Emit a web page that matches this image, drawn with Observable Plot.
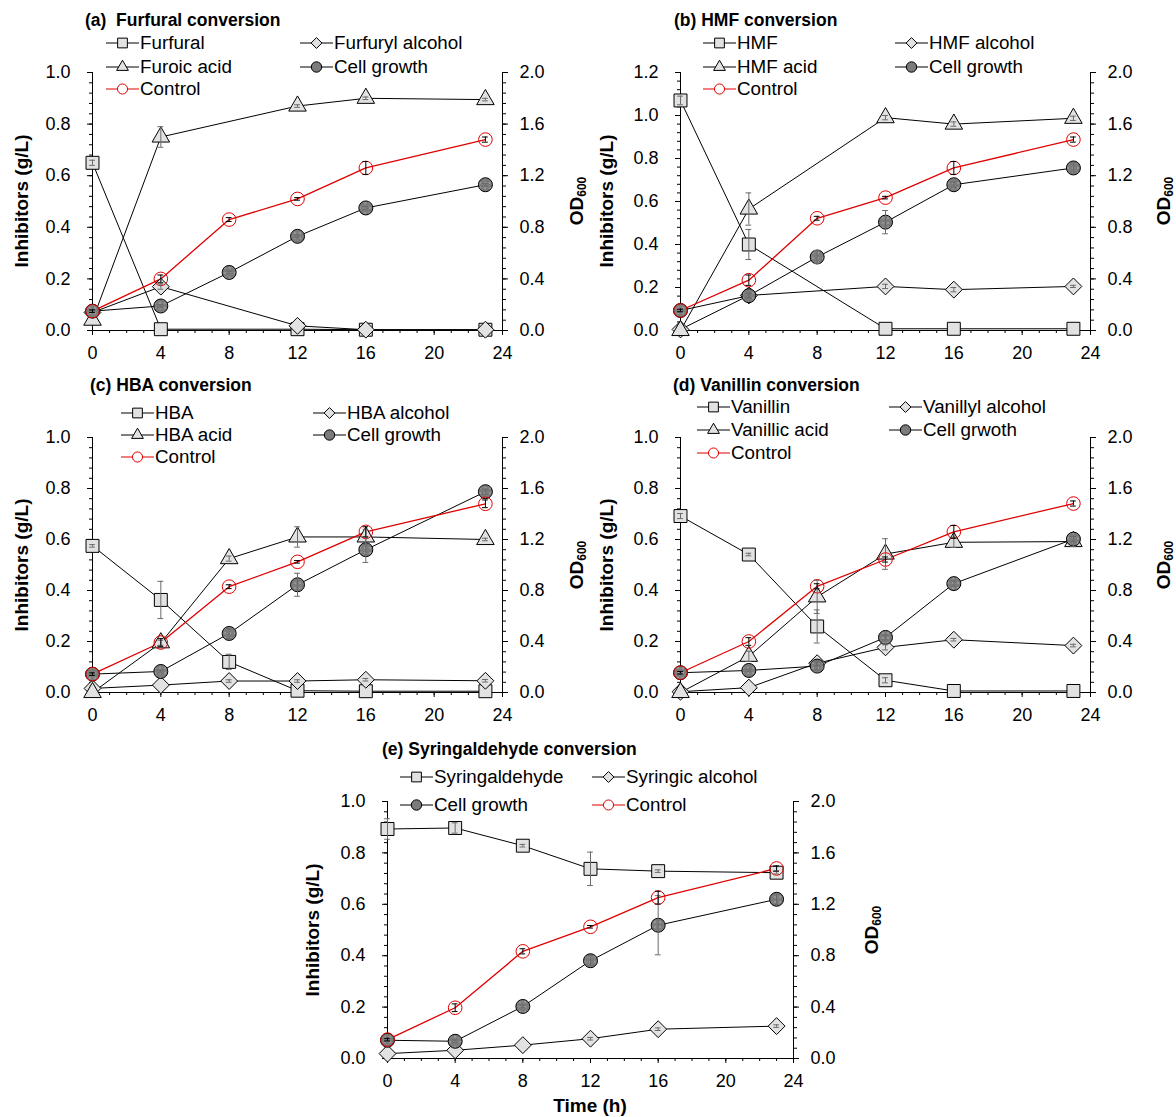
<!DOCTYPE html>
<html><head><meta charset="utf-8">
<script src="https://cdn.jsdelivr.net/npm/d3@7"></script>
<script src="https://cdn.jsdelivr.net/npm/@observablehq/plot@0.6"></script>
<style>
body{margin:0;background:#fff;}
#page{position:relative;width:1176px;height:1117px;font-family:"Liberation Sans",Arial,sans-serif;overflow:hidden;background:#fff;color:#000;}
.panel{position:absolute;overflow:visible;}
.title{position:absolute;font-weight:bold;font-size:17.5px;line-height:20px;white-space:pre;}
.leg{position:absolute;font-size:18.8px;line-height:20px;white-space:nowrap;display:flex;align-items:center;}
.leg svg{display:block;}
.ylab{position:absolute;font-weight:bold;font-size:19px;line-height:20px;white-space:nowrap;transform:translate(-50%,-50%) rotate(-90deg);}
.ylab sub{font-size:12px;vertical-align:-3px;}
.xlab{position:absolute;font-weight:bold;font-size:19px;line-height:20px;white-space:nowrap;transform:translate(-50%,-50%);}
</style></head><body><div id="page"></div>
<script>
// ---------- data ----------
const hours  = [0, 4, 8, 12, 16, 23];
const xTicks = [0, 4, 8, 12, 16, 20, 24];
const odTicks = [0, 0.4, 0.8, 1.2, 1.6, 2.0];

// (a) Furfural conversion  (g/L; OD600 for growth)
const furfural           = [0.65, 0.005, null, 0.005, 0.003, 0.003];
const furfuralErr        = [0.01, 0, null, 0, 0, 0];
const furfurylAlcohol    = [0.07, 0.17, null, 0.018, 0.003, 0.003];
const furfurylAlcoholErr = [0, 0.01, null, 0, 0, 0];
const furoicAcid         = [0.04, 0.75, null, 0.87, 0.90, 0.895];
const furoicAcidErr      = [0, 0.04, null, 0.005, 0.005, 0.005];
const cellGrowthA        = [0.15, 0.19, 0.45, 0.73, 0.95, 1.13];
const cellGrowthAErr     = [0.01, 0.01, 0.01, 0.01, 0.01, 0.01];
const controlA           = [0.15, 0.40, 0.86, 1.02, 1.26, 1.48];
const controlAErr        = [0.01, 0.03, 0.015, 0.01, 0.05, 0.02];

// (b) HMF conversion
const hmf           = [1.07, 0.40, null, 0.008, 0.008, 0.008];
const hmfErr        = [0.02, 0.07, null, 0, 0, 0];
const hmfAlcohol    = [0.005, 0.163, null, 0.205, 0.19, 0.205];
const hmfAlcoholErr = [0, 0.01, null, 0.01, 0.01, 0.005];
const hmfAcid       = [0.0, 0.565, null, 0.99, 0.96, 0.987];
const hmfAcidErr    = [0, 0.075, null, 0.01, 0.01, 0.01];
const cellGrowthB   = [0.155, 0.27, 0.57, 0.84, 1.13, 1.26];
const cellGrowthBErr= [0.01, 0.02, 0.05, 0.09, 0.02, 0.04];
const controlB      = [0.155, 0.39, 0.87, 1.03, 1.26, 1.48];
const controlBErr   = [0.01, 0.04, 0.015, 0.01, 0.05, 0.02];

// (c) HBA conversion
const hba           = [0.575, 0.363, 0.12, 0.007, 0.005, 0.005];
const hbaErr        = [0.005, 0.073, 0.03, 0, 0, 0];
const hbaAlcohol    = [0.016, 0.029, 0.045, 0.045, 0.05, 0.046];
const hbaAlcoholErr = [0, 0, 0.005, 0.005, 0.005, 0.005];
const hbaAcid       = [0.0, 0.195, 0.525, 0.61, 0.61, 0.60];
const hbaAcidErr    = [0, 0.01, 0.01, 0.04, 0.03, 0.005];
const cellGrowthC   = [0.144, 0.165, 0.463, 0.845, 1.12, 1.575];
const cellGrowthCErr= [0.01, 0.01, 0.04, 0.09, 0.1, 0.02];
const controlC      = [0.144, 0.392, 0.83, 1.025, 1.26, 1.48];
const controlCErr   = [0.01, 0.03, 0.015, 0.01, 0.04, 0.03];

// (d) Vanillin conversion
const vanillin           = [0.692, 0.541, 0.259, 0.048, 0.006, 0.006];
const vanillinErr        = [0.01, 0.005, 0.065, 0.01, 0, 0];
const vanillylAlcohol    = [0.003, 0.019, 0.115, 0.177, 0.207, 0.184];
const vanillylAlcoholErr = [0, 0, 0.01, 0.01, 0.005, 0.005];
const vanillicAcid       = [0.0, 0.142, 0.375, 0.543, 0.589, 0.592];
const vanillicAcidErr    = [0, 0.02, 0.065, 0.06, 0.02, 0.02];
const cellGrowthD        = [0.155, 0.173, 0.207, 0.432, 0.854, 1.203];
const cellGrowthDErr     = [0.01, 0.01, 0.03, 0.02, 0.02, 0.02];
const controlD           = [0.155, 0.40, 0.833, 1.043, 1.26, 1.482];
const controlDErr        = [0.01, 0.03, 0.02, 0.02, 0.05, 0.02];

// (e) Syringaldehyde conversion
const syringaldehyde      = [0.893, 0.897, 0.828, 0.738, 0.729, 0.723];
const syringaldehydeErr   = [0.04, 0.02, 0.005, 0.065, 0.005, 0.005];
const syringicAlcohol     = [0.019, 0.032, 0.052, 0.077, 0.114, 0.126];
const syringicAlcoholErr  = [0, 0, 0, 0.005, 0.005, 0.005];
const cellGrowthE         = [0.142, 0.134, 0.405, 0.761, 1.037, 1.239];
const cellGrowthEErr      = [0.01, 0.01, 0.01, 0.04, 0.23, 0.04];
const controlE            = [0.147, 0.395, 0.834, 1.025, 1.252, 1.479];
const controlEErr         = [0.01, 0.03, 0.02, 0.01, 0.05, 0.02];

// ---------- styles ----------
const KIND = {
  square:   {symbol: "square",   r: 7.3, legSize: 95,  fill: "#e2e2e2", stroke: "#000", line: "#000", lw: 1},
  diamond:  {symbol: "diamond2", r: 7.6, legSize: 75,  fill: "#e2e2e2", stroke: "#000", line: "#000", lw: 1},
  triangle: {symbol: "triangle", r: 6.5, legSize: 60,  fill: "#e2e2e2", stroke: "#000", line: "#000", lw: 1},
  cell:     {symbol: "circle",   r: 7.0, legSize: 85,  fill: "dots",    stroke: "#000", line: "#000", lw: 1},
  control:  {symbol: "circle",   r: 6.8, legSize: 80,  fill: "none",    stroke: "#e00000", line: "#e00000", lw: 1.3}
};
const D3SYM = {square: d3.symbolSquare, diamond2: d3.symbolDiamond2, triangle: d3.symbolTriangle, circle: d3.symbolCircle};

const panels = [
  {id: "a", title: "(a)  Furfural conversion", titleX: 85, titleY: 20, yMax: 1.0,
   x0: 92, x1: 502, yt: 72, yb: 330, ylabX: 22, odX: 579,
   series: [
     {name: "Furfural", kind: "square", vals: furfural, err: furfuralErr, od: false},
     {name: "Furfuryl alcohol", kind: "diamond", vals: furfurylAlcohol, err: furfurylAlcoholErr, od: false},
     {name: "Furoic acid", kind: "triangle", vals: furoicAcid, err: furoicAcidErr, od: false},
     {name: "Cell growth", kind: "cell", vals: cellGrowthA, err: cellGrowthAErr, od: true},
     {name: "Control", kind: "control", vals: controlA, err: controlAErr, od: true}],
   legCols: [106, 300], legRows: [43, 67, 89],
   legend: [[0,0,0],[1,1,0],[2,0,1],[3,1,1],[4,0,2]]},
  {id: "b", title: "(b) HMF conversion", titleX: 674, titleY: 20, yMax: 1.2,
   x0: 680, x1: 1090, yt: 72, yb: 330, ylabX: 607, odX: 1166,
   series: [
     {name: "HMF", kind: "square", vals: hmf, err: hmfErr, od: false},
     {name: "HMF alcohol", kind: "diamond", vals: hmfAlcohol, err: hmfAlcoholErr, od: false},
     {name: "HMF acid", kind: "triangle", vals: hmfAcid, err: hmfAcidErr, od: false},
     {name: "Cell growth", kind: "cell", vals: cellGrowthB, err: cellGrowthBErr, od: true},
     {name: "Control", kind: "control", vals: controlB, err: controlBErr, od: true}],
   legCols: [703, 895], legRows: [43, 67, 89],
   legend: [[0,0,0],[1,1,0],[2,0,1],[3,1,1],[4,0,2]]},
  {id: "c", title: "(c) HBA conversion", titleX: 90, titleY: 385, yMax: 1.0,
   x0: 92, x1: 502, yt: 437, yb: 692, ylabX: 22, odX: 579,
   series: [
     {name: "HBA", kind: "square", vals: hba, err: hbaErr, od: false},
     {name: "HBA alcohol", kind: "diamond", vals: hbaAlcohol, err: hbaAlcoholErr, od: false},
     {name: "HBA acid", kind: "triangle", vals: hbaAcid, err: hbaAcidErr, od: false},
     {name: "Cell growth", kind: "cell", vals: cellGrowthC, err: cellGrowthCErr, od: true},
     {name: "Control", kind: "control", vals: controlC, err: controlCErr, od: true}],
   legCols: [121, 313], legRows: [413, 435, 457],
   legend: [[0,0,0],[1,1,0],[2,0,1],[3,1,1],[4,0,2]]},
  {id: "d", title: "(d) Vanillin conversion", titleX: 673, titleY: 385, yMax: 1.0,
   x0: 680, x1: 1090, yt: 437, yb: 692, ylabX: 607, odX: 1166,
   series: [
     {name: "Vanillin", kind: "square", vals: vanillin, err: vanillinErr, od: false},
     {name: "Vanillyl alcohol", kind: "diamond", vals: vanillylAlcohol, err: vanillylAlcoholErr, od: false},
     {name: "Vanillic acid", kind: "triangle", vals: vanillicAcid, err: vanillicAcidErr, od: false},
     {name: "Cell grwoth", kind: "cell", vals: cellGrowthD, err: cellGrowthDErr, od: true},
     {name: "Control", kind: "control", vals: controlD, err: controlDErr, od: true}],
   legCols: [697, 889], legRows: [407, 430, 453],
   legend: [[0,0,0],[1,1,0],[2,0,1],[3,1,1],[4,0,2]]},
  {id: "e", title: "(e) Syringaldehyde conversion", titleX: 382, titleY: 749, yMax: 1.0,
   x0: 387, x1: 793, yt: 801, yb: 1058, ylabX: 313, odX: 874, xlabel: "Time (h)", xlabY: 1106,
   series: [
     {name: "Syringaldehyde", kind: "square", vals: syringaldehyde, err: syringaldehydeErr, od: false},
     {name: "Syringic alcohol", kind: "diamond", vals: syringicAlcohol, err: syringicAlcoholErr, od: false},
     {name: "Cell growth", kind: "cell", vals: cellGrowthE, err: cellGrowthEErr, od: true},
     {name: "Control", kind: "control", vals: controlE, err: controlEErr, od: true}],
   legCols: [400, 592], legRows: [777, 805],
   legend: [[0,0,0],[1,1,0],[2,0,1],[3,1,1]]}
];

// ---------- drawing ----------
const page = document.getElementById("page");

function addDiv(cls, x, y, html, asText) {
  const d = document.createElement("div");
  d.className = cls; d.style.left = x + "px"; d.style.top = y + "px";
  if (asText) d.textContent = html; else d.innerHTML = html;
  page.appendChild(d); return d;
}

function seriesRows(s, k) {
  const f = s.od ? k : 1;
  return hours.map((t, i) => ({t, v: s.vals[i] == null ? null : s.vals[i] * f, e: (s.err && s.err[i] ? s.err[i] : 0) * f}))
    .filter(d => d.v != null);
}

function drawPanel(p) {
  const padL = 60, padR = 62, padT = 12, padB = 40;
  const k = p.yMax / 2; // OD600 -> left-axis units
  const fillId = "dots-" + p.id;
  const leftMajor = d3.range(0, Math.round(p.yMax / 0.2) + 1).map(i => i * 0.2);
  const leftMinor = d3.range(0, Math.round(p.yMax / 0.04) + 1).map(i => i * 0.04);
  const rightMinor = d3.range(0, 26).map(i => i * 0.08 * k);
  const marks = [
    Plot.axisX(d3.range(0, 25), {tickSize: 3, tickFormat: () => "", label: null}),
    Plot.axisX(xTicks, {tickSize: 5, tickPadding: 11, tickFormat: d => String(d), label: null}),
    Plot.axisY(leftMinor, {anchor: "left", tickSize: 3, tickFormat: () => "", label: null}),
    Plot.axisY(leftMajor, {anchor: "left", tickSize: 5, tickPadding: 17, tickFormat: d => d.toFixed(1), label: null}),
    Plot.axisY(rightMinor, {anchor: "right", tickSize: 3, tickFormat: () => "", label: null}),
    Plot.axisY(odTicks.map(v => v * k), {anchor: "right", tickSize: 5, tickPadding: 12, tickFormat: d => (d / k).toFixed(1), label: null}),
    Plot.ruleX([0, 24], {stroke: "#000", strokeWidth: 1}),
    Plot.ruleY([0], {stroke: "#000", strokeWidth: 1})
  ];
  const rowsBy = p.series.map(s => seriesRows(s, k));
  p.series.forEach((s, i) => {
    const st = KIND[s.kind];
    marks.push(Plot.line(rowsBy[i], {x: "t", y: "v", stroke: st.line, strokeWidth: st.lw}));
  });
  p.series.forEach((s, i) => {
    const st = KIND[s.kind];
    marks.push(Plot.dot(rowsBy[i], {x: "t", y: "v", symbol: st.symbol, r: st.r,
      fill: st.fill === "dots" ? `url(#${fillId})` : st.fill, stroke: st.stroke, strokeWidth: 1}));
  });
  p.series.forEach((s, i) => {
    const ec = s.kind === "control" ? "#000" : "#6a6a6a";
    const er = rowsBy[i].filter(d => d.e > 0);
    marks.push(Plot.ruleX(er, {x: "t", y1: d => Math.max(0, d.v - d.e), y2: d => d.v + d.e, stroke: ec, strokeWidth: 1}));
    marks.push(Plot.ruleY(er, {y: d => d.v + d.e, x1: d => d.t - 0.17, x2: d => d.t + 0.17, stroke: ec, strokeWidth: 1}));
    marks.push(Plot.ruleY(er, {y: d => Math.max(0, d.v - d.e), x1: d => d.t - 0.17, x2: d => d.t + 0.17, stroke: ec, strokeWidth: 1}));
  });

  const W = (p.x1 - p.x0) + padL + padR, H = (p.yb - p.yt) + padT + padB;
  const svg = Plot.plot({
    width: W, height: H,
    marginLeft: padL, marginRight: padR, marginTop: padT, marginBottom: padB,
    x: {domain: [0, 24]},
    y: {domain: [0, p.yMax]},
    style: {fontFamily: '"Liberation Sans", Arial, sans-serif', fontSize: "18px", color: "#000", background: "transparent", overflow: "visible"},
    marks
  });
  // dotted grey fill for cell-growth markers
  const defs = d3.select(svg).insert("defs", ":first-child");
  const pat = defs.append("pattern").attr("id", fillId).attr("patternUnits", "userSpaceOnUse").attr("width", 5).attr("height", 5);
  pat.append("rect").attr("width", 5).attr("height", 5).attr("fill", "#7b7b7b");
  pat.append("circle").attr("cx", 2.5).attr("cy", 2.5).attr("r", 0.8).attr("fill", "#c4c4c4");

  svg.classList.add("panel");
  svg.style.left = (p.x0 - padL) + "px";
  svg.style.top = (p.yt - padT) + "px";
  page.appendChild(svg);

  // title, axis labels
  addDiv("title", p.titleX, p.titleY - 10, p.title, true);
  const cy = (p.yt + p.yb) / 2;
  addDiv("ylab", p.ylabX, cy, "Inhibitors (g/L)", true);
  addDiv("ylab", p.odX, cy, "OD<sub>600</sub>");
  if (p.xlabel) addDiv("xlab", (p.x0 + p.x1) / 2, p.xlabY, p.xlabel, true);

  // legend
  p.legend.forEach(([si, col, row]) => {
    const s = p.series[si], st = KIND[s.kind];
    const div = addDiv("leg", p.legCols[col], p.legRows[row] - 10, "");
    const ls = d3.create("svg").attr("width", 34).attr("height", 20);
    ls.append("line").attr("x1", 0).attr("x2", 33).attr("y1", 10).attr("y2", 10)
      .attr("stroke", st.line).attr("stroke-width", 1);
    ls.append("path").attr("transform", "translate(16.5,10)")
      .attr("d", d3.symbol(D3SYM[st.symbol], st.legSize)())
      .attr("fill", st.fill === "dots" ? "#7b7b7b" : (st.fill === "none" ? "#fff" : st.fill))
      .attr("stroke", st.stroke).attr("stroke-width", 1);
    div.appendChild(ls.node());
    const sp = document.createElement("span");
    sp.textContent = s.name;
    div.appendChild(sp);
  });
}

panels.forEach(drawPanel);
</script></body></html>
